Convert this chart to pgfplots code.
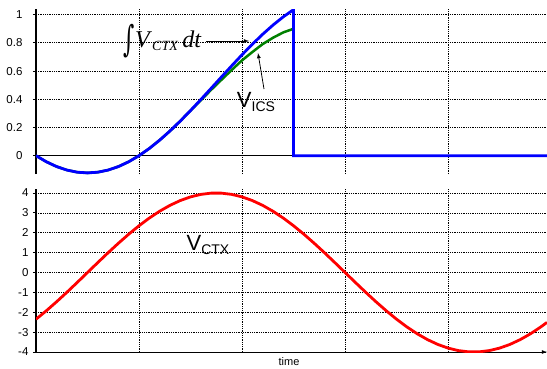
\documentclass[border=0pt]{standalone}
\usepackage{pgfplots}
\pgfplotsset{compat=1.18}
\usepackage{graphicx}
\usepackage{fontspec}
\setmainfont{Liberation Sans}
\newfontfamily\timesit{Liberation Serif}
\newfontfamily\dejavu{DejaVu Serif}
\begin{document}
\begin{tikzpicture}[x=1pt,y=1pt]
\path[use as bounding box] (0,0) rectangle (547,368);
\pgfplotsset{
  mybase/.style={
    scale only axis, width=511pt,
    xmin=0, xmax=4.96,
    xtick={1,2,3,4}, xticklabels={},
    major x tick style={draw=none},
    grid=major,
    major grid style={black, line width=0.7pt, dash pattern=on 0.9pt off 0.9pt},
    axis line style={black, line width=1.3pt},
    tick style={black, line width=0.8pt},
    tick align=outside, major tick length=3pt,
    ticklabel style={font=\fontsize{11.5}{13}\selectfont},
  }
}
% top axis
\begin{axis}[mybase,
  at={(36pt,194pt)}, anchor=south west, height=165pt,
  ymin=-0.13, ymax=1.04,
  axis x line*=middle, axis y line*=left,
  x axis line style={line width=0.8pt, -},
  y axis line style={-},
  ytick={0,0.2,0.4,0.6,0.8,1},
  yticklabels={0,0.2,0.4,0.6,0.8,1},
  yticklabel style={xshift=-7pt},
]
\addplot[color={rgb,255:red,0;green,128;blue,0}, line width=2.5pt] coordinates {
(0,0) (0.1,-0.0431) (0.2,-0.0773) (0.3,-0.1021) (0.4,-0.1172) (0.5,-0.1222)
(0.6,-0.1172) (0.7,-0.1021) (0.8,-0.0773) (0.9,-0.0431) (1.0,0)
(1.1,0.0512) (1.2,0.1098) (1.3,0.1748) (1.4,0.2452) (1.5,0.3200)
(1.6,0.393) (1.7,0.467) (1.8,0.538) (1.9,0.608) (2.0,0.676)
(2.1,0.735) (2.2,0.791) (2.3,0.836) (2.4,0.874) (2.5,0.900)
};
\addplot[color={rgb,255:red,0;green,0;blue,255}, line width=2.8pt] coordinates {
(0,0) (0.1,-0.0431) (0.2,-0.0773) (0.3,-0.1021) (0.4,-0.1172) (0.5,-0.1222)
(0.6,-0.1172) (0.7,-0.1021) (0.8,-0.0773) (0.9,-0.0431) (1.0,0)
(1.1,0.0512) (1.2,0.1098) (1.3,0.1748) (1.4,0.2452) (1.5,0.3200)
(1.6,0.3978) (1.7,0.4776) (1.8,0.5580) (1.9,0.6377) (2.0,0.7155)
(2.1,0.7903) (2.2,0.8607) (2.3,0.9257) (2.4,0.9843) (2.5,1.0355)
(2.5,0) (4.96,0)
};
\end{axis}
% bottom axis
\begin{axis}[mybase,
  at={(36pt,16pt)}, anchor=south west, height=163pt,
  ymin=-4, ymax=4.2,
  axis x line*=bottom, axis y line*=left,
  x axis line style={line width=0.8pt, -latex},
  y axis line style={-},
  ytick={-4,-3,-2,-1,0,1,2,3,4},
  yticklabels={-4,-3,-2,-1,0,1,2,3,4},
  yticklabel style={xshift=-1pt},
]
\addplot[color={rgb,255:red,255;green,0;blue,0}, line width=2.8pt] coordinates {
(0,-2.351) (0.1,-1.927) (0.2,-1.472) (0.3,-0.995) (0.4,-0.501) (0.5,0)
(0.6,0.501) (0.7,0.995) (0.8,1.472) (0.9,1.927) (1.0,2.351)
(1.1,2.738) (1.2,3.082) (1.3,3.377) (1.4,3.619) (1.5,3.804)
(1.6,3.929) (1.7,3.992) (1.8,3.992) (1.9,3.929) (2.0,3.804)
(2.1,3.619) (2.2,3.377) (2.3,3.082) (2.4,2.738) (2.5,2.351)
(2.6,1.927) (2.7,1.472) (2.8,0.995) (2.9,0.501) (3.0,0)
(3.1,-0.501) (3.2,-0.995) (3.3,-1.472) (3.4,-1.927) (3.5,-2.351)
(3.6,-2.738) (3.7,-3.082) (3.8,-3.377) (3.9,-3.619) (4.0,-3.804)
(4.1,-3.929) (4.2,-3.992) (4.3,-3.992) (4.4,-3.929) (4.5,-3.804)
(4.6,-3.619) (4.7,-3.377) (4.8,-3.082) (4.9,-2.738) (4.96,-2.510)
};
\end{axis}
% annotations
\node[inner sep=0pt] at (129,327) {\scalebox{0.9}[1.5]{\dejavu\fontsize{24}{24}\selectfont ∫}};
\node[inner sep=0pt, anchor=west] at (135,327) {\timesit\fontsize{24}{24}\selectfont\textit{V}\raisebox{-3pt}{\fontsize{14}{14}\selectfont\textit{CTX}}\,\textit{dt}};
\draw[-latex, line width=0.8pt] (206,327) -- (249,327);
\node at (256,266) {\fontsize{22}{22}\selectfont V\raisebox{-4pt}{\fontsize{14}{14}\selectfont ICS}};
\draw[-latex, line width=0.8pt] (264,279) -- (258,315);
\node at (208,123) {\fontsize{22}{22}\selectfont V\raisebox{-4pt}{\fontsize{14}{14}\selectfont CTX}};
\node at (289,6) {\fontsize{11}{12}\selectfont time};
\end{tikzpicture}
\end{document}
